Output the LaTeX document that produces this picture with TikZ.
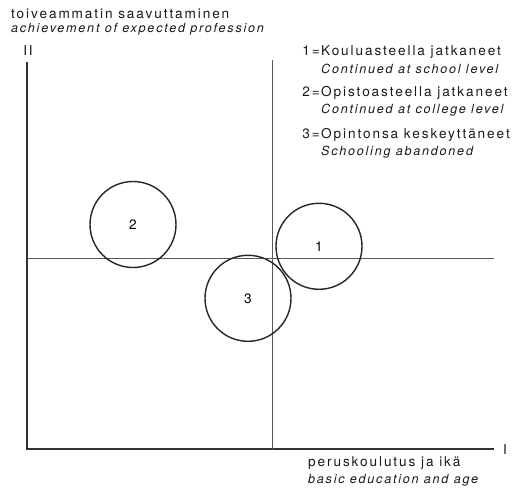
\documentclass[tikz,border=0pt]{standalone}
\usepackage{fontspec}
\setmainfont[LetterSpace=14]{TeX Gyre Heros}

\begin{document}
\begin{tikzpicture}[x=1pt,y=-1pt,
   grp/.style={circle,draw=black!85,line width=1.4pt,minimum size=86pt,inner sep=0pt,font=\fontsize{13.6}{16}\selectfont},
   fi/.style={anchor=base west,inner sep=0pt,text=black!90,font=\fontsize{13.6}{16}\selectfont},
   en/.style={anchor=base west,inner sep=0pt,text=black!90,font=\fontsize{12.6}{15}\selectfont\itshape}]
   \useasboundingbox (0,0) rectangle (526,487);
   % axes
   \coordinate (ytop) at (27,62);
   \coordinate (o) at (27,449);
   \coordinate (xend) at (494,449);
   \draw[line width=1.2pt,black!80] (ytop) -- (o) -- (xend);
   % quadrant lines
   \coordinate (mtop) at (272,60);
   \coordinate (mbot) at (272,449);
   \coordinate (mleft) at (27,258);
   \coordinate (mright) at (494,258);
   \draw[line width=0.8pt,black!65] (mtop) -- (mbot);
   \draw[line width=0.8pt,black!65] (mleft) -- (mright);
   % axis names
   \node[fi,anchor=base] (ii) at (28,55.7) {II};
   \node[fi,anchor=base] (i) at (505,454) {I};
   \node[fi] (yname) at (11,19) {toiveammatin saavuttaminen};
   \node[en] (yeng) at (11,33) {achievement of expected profession};
   \node[fi] (xname) at (308,466.7) {peruskoulutus ja ikä};
   \node[en] (xeng) at (308,483) {basic education and age};
   % legend
   \foreach \n/\fin/\eng/\y in {1/Kouluasteella jatkaneet/Continued at school level/56,
      2/Opistoasteella jatkaneet/Continued at college level/96.7,
      3/Opintonsa keskeyttäneet/Schooling abandoned/138.3} {
    \node[fi,anchor=base east] (n\n) at (320,\y) {\n=};
    \node[fi] (k\n) at (321,\y) {\fin};
    \node[en] (e\n) at (321,{\y+17}) {\eng};
   }
   % groups
   \foreach \n/\x/\y in {1/319/246.3,2/133/224.5,3/248/298.3}
    \node[grp] (c\n) at (\x,\y) {\n};
  \end{tikzpicture}
\end{document}
